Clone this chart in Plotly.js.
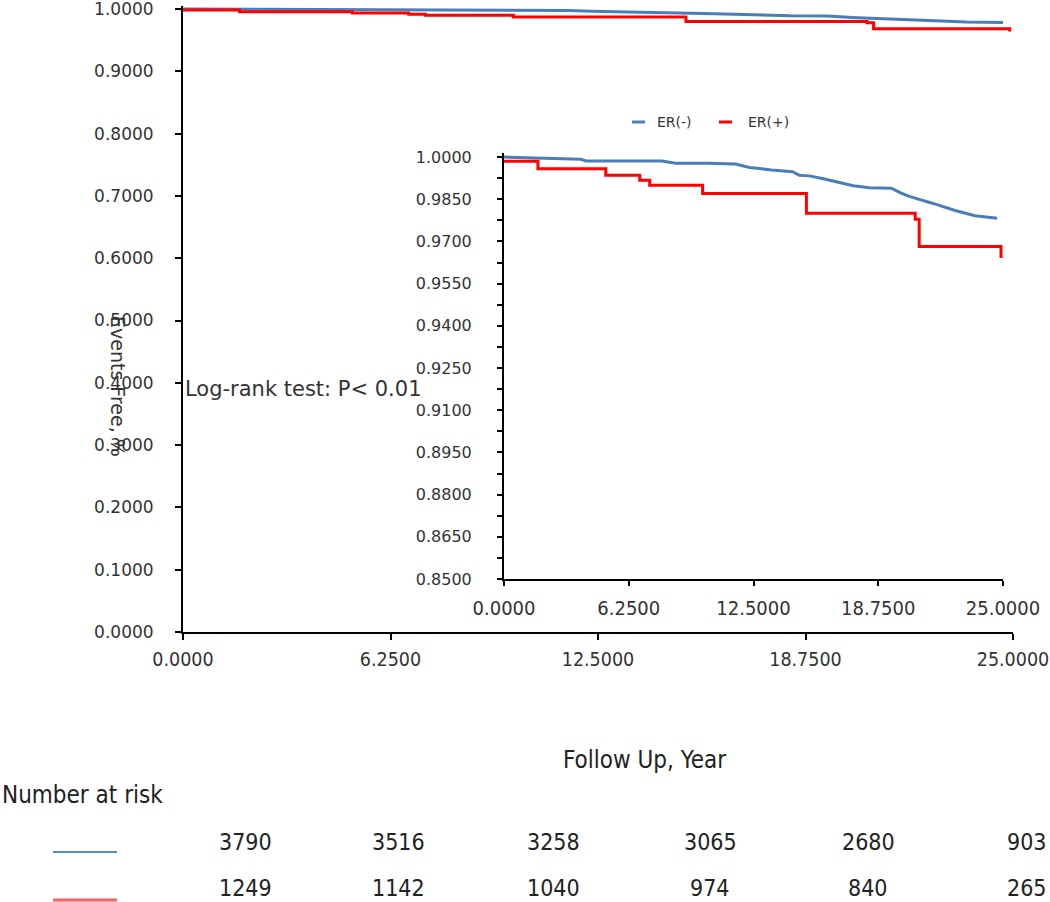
<!DOCTYPE html>
<html><head><meta charset="utf-8">
<script src="https://cdn.plot.ly/plotly-3.0.1.min.js"></script>
<style>html,body{margin:0;padding:0;background:#fff}#chart{width:1050px;height:902px}</style>
</head><body><div id="chart"></div>
<script>
// ---- data ----
const seriesNames = ['ER(-)', 'ER(+)'];
const timeNeg = [0, 3.86, 4.1, 7.9, 8.6, 10.2, 11.6, 12.3, 13.4, 14.46, 14.8, 15.3, 16.0, 17.5, 18.3, 19.4, 19.9, 20.3, 21.5, 22.6, 23.6, 24.7];
const survNeg = [1.0, 0.9992, 0.9986, 0.9986, 0.9978, 0.9978, 0.9975, 0.9963, 0.9954, 0.9948, 0.9935, 0.9933, 0.9923, 0.9898, 0.9891, 0.9889, 0.9872, 0.9860, 0.9835, 0.9810, 0.9791, 0.9782];
const timePos = [0, 1.7, 5.1, 6.8, 7.3, 9.95, 15.15, 20.6, 20.8, 24.9];
const survPos = [0.9985, 0.9958, 0.9935, 0.9917, 0.9900, 0.9870, 0.9800, 0.9779, 0.9682, 0.9641];
const xTickVals = [0, 6.25, 12.5, 18.75, 25];
const yTickVals = [0, 0.1, 0.2, 0.3, 0.4, 0.5, 0.6, 0.7, 0.8, 0.9, 1.0];
const insetYTickVals = [0.85, 0.865, 0.88, 0.895, 0.91, 0.925, 0.94, 0.955, 0.97, 0.985, 1.0];
const riskNeg = [3790, 3516, 3258, 3065, 2680, 903];
const riskPos = [1249, 1142, 1040, 974, 840, 265];
const pValueText = 'Log-rank test: P< 0.01';

// ---- layout helpers (pixel -> paper) ----
const W = 1050, H = 902;
const px = v => v / W, py = v => 1 - v / H;
const colBlue = '#4a7ebb', colRed = '#ff0000';
const condensed = '"DejaVu Sans Condensed", "DejaVu Sans", sans-serif';
const sans = '"DejaVu Sans", Verdana, sans-serif';
const txt = '#333333';

const traces = [
  {x: timeNeg, y: survNeg, xaxis: 'x', yaxis: 'y', mode: 'lines', name: seriesNames[0], line: {color: colBlue, width: 3}},
  {x: timePos, y: survPos, xaxis: 'x', yaxis: 'y', mode: 'lines', name: seriesNames[1], line: {color: colRed, width: 3, shape: 'hv'}},
  {x: timeNeg, y: survNeg, xaxis: 'x2', yaxis: 'y2', mode: 'lines', name: seriesNames[0], line: {color: colBlue, width: 3}},
  {x: timePos, y: survPos, xaxis: 'x2', yaxis: 'y2', mode: 'lines', name: seriesNames[1], line: {color: colRed, width: 3, shape: 'hv'}}
];

const axBase = {showline: true, linecolor: '#000', linewidth: 2, ticks: 'outside', tickcolor: '#000', tickwidth: 2,
  showgrid: false, zeroline: false, fixedrange: true, ticklabeloverflow: 'allow'};

const riskCols = [245, 398, 553, 710, 868, 1049];
const annotations = [
  {xref: 'paper', yref: 'paper', x: px(183), y: py(389), xanchor: 'left', yanchor: 'middle', showarrow: false,
   text: pValueText, font: {family: sans, size: 21, color: txt}},
  {xref: 'paper', yref: 'paper', x: px(118), y: py(386), xanchor: 'center', yanchor: 'middle', showarrow: false,
   text: 'Events Free, %', textangle: 90, font: {family: sans, size: 19, color: txt}},
  {xref: 'paper', yref: 'paper', x: px(644), y: py(760), xanchor: 'center', yanchor: 'middle', showarrow: false,
   text: 'Follow Up, Year', font: {family: condensed, size: 24, color: '#222'}},
  {xref: 'paper', yref: 'paper', x: px(0), y: py(795), xanchor: 'left', yanchor: 'middle', showarrow: false,
   text: 'Number at risk', font: {family: condensed, size: 24, color: '#222'}},
  {xref: 'paper', yref: 'paper', x: px(655), y: py(122), xanchor: 'left', yanchor: 'middle', showarrow: false,
   text: seriesNames[0], font: {family: sans, size: 14, color: txt}},
  {xref: 'paper', yref: 'paper', x: px(746), y: py(122), xanchor: 'left', yanchor: 'middle', showarrow: false,
   text: seriesNames[1], font: {family: sans, size: 14, color: txt}}
];
function riskNote(v, i, yPix) {
  const last = i === riskCols.length - 1;
  return {xref: 'paper', yref: 'paper', x: px(riskCols[i]), y: py(yPix), xanchor: last ? 'right' : 'center',
    yanchor: 'middle', showarrow: false, text: String(v), font: {family: condensed, size: 23, color: '#222'}};
}
riskNeg.forEach((v, i) => annotations.push(riskNote(v, i, 842)));
riskPos.forEach((v, i) => annotations.push(riskNote(v, i, 888)));

const shapes = [
  {type: 'line', xref: 'paper', yref: 'paper', x0: px(632), x1: px(645), y0: py(122), y1: py(122), line: {color: colBlue, width: 3}},
  {type: 'line', xref: 'paper', yref: 'paper', x0: px(719), x1: px(732), y0: py(122), y1: py(122), line: {color: colRed, width: 3}},
  {type: 'line', xref: 'paper', yref: 'paper', x0: px(53), x1: px(117), y0: py(852), y1: py(852), line: {color: '#4a8fd8', width: 2}},
  {type: 'line', xref: 'paper', yref: 'paper', x0: px(53), x1: px(117), y0: py(900), y1: py(900), line: {color: '#ff6060', width: 3}}
];

const layout = {
  width: W, height: H, margin: {l: 0, r: 0, t: 0, b: 0},
  paper_bgcolor: '#ffffff', plot_bgcolor: 'rgba(0,0,0,0)', showlegend: false,
  xaxis: Object.assign({}, axBase, {domain: [px(183), px(1013)], range: [0, 25], anchor: 'y',
    tickmode: 'array', tickvals: xTickVals, tickformat: '.4f', ticklen: 6, ticklabelstandoff: 3,
    tickfont: {family: condensed, size: 19.5, color: txt}}),
  yaxis: Object.assign({}, axBase, {domain: [py(632), py(5.9)], range: [0, 1.005], anchor: 'x',
    tickmode: 'array', tickvals: yTickVals, tickformat: '.4f', ticklen: 6, ticklabelstandoff: 18,
    tickfont: {family: sans, size: 17, color: txt}}),
  xaxis2: Object.assign({}, axBase, {domain: [px(504), px(1003)], range: [0, 25], anchor: 'y2',
    tickmode: 'array', tickvals: xTickVals, tickformat: '.4f', ticklen: 5, ticklabelstandoff: 5,
    tickfont: {family: condensed, size: 20, color: txt}}),
  yaxis2: Object.assign({}, axBase, {domain: [py(579), py(152.8)], range: [0.85, 1.0015], anchor: 'x2',
    tickmode: 'array', tickvals: insetYTickVals, tickformat: '.4f', ticklen: 5, ticklabelstandoff: 22,
    minor: {ticks: 'outside', tick0: 0.85, dtick: 0.0075, ticklen: 5, tickcolor: '#000', tickwidth: 2},
    tickfont: {family: sans, size: 16, color: txt}}),
  annotations: annotations,
  shapes: shapes
};

Plotly.newPlot('chart', traces, layout, {staticPlot: true, displayModeBar: false});
</script>
</body></html>
